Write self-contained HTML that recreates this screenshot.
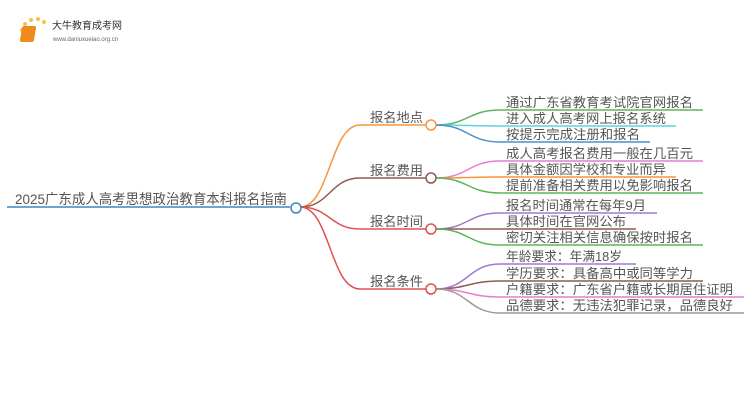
<!DOCTYPE html>
<html><head><meta charset="utf-8"><style>
html,body{margin:0;padding:0;background:#fff;width:750px;height:410px;overflow:hidden}
svg text{font-family:"Liberation Sans","Noto Sans CJK SC",sans-serif;fill:#555}
</style></head><body>
<svg width="750" height="410" viewBox="0 0 750 410" xmlns="http://www.w3.org/2000/svg">
<!-- logo -->
<g>
<circle cx="22" cy="30" r="2" fill="#f6c343"/><circle cx="25" cy="24" r="2" fill="#f6c343"/><circle cx="31" cy="20" r="2" fill="#f6c343"/><circle cx="38" cy="19" r="2" fill="#f6c343"/><circle cx="44" cy="22" r="2" fill="#f6c343"/><circle cx="23" cy="36" r="1.5" fill="#f6c343"/>
<rect x="27" y="26" width="14" height="16" rx="2" fill="#f08a1c" transform="skewX(-10)"/>
<text x="52" y="29" font-size="10" style="fill:#333">大牛教育成考网</text>
<text x="53" y="41" font-size="6" style="fill:#666">www.daniuxueiao.org.cn</text>
</g>
<g fill="none" stroke-width="1.5">
<!-- root -->
<path d="M7 207 H290" stroke="#3d85c6"/>
<!-- branches -->
<path d="M300 207 C330 207 330 125 360 125 H426" stroke="#f7943c"/>
<path d="M300 207 C330 207 330 178 360 178 H426" stroke="#8d5c4f"/>
<path d="M300 207 C330 207 330 229 360 229 H426" stroke="#e05252"/>
<path d="M300 207 C330 207 330 289 360 289 H426" stroke="#e05252"/>
<!-- leaves -->
<path d="M436 125 C468 125 468 110 500 110 H703" stroke="#5bb55b"/>
<path d="M436 125 C468 125 468 126 500 126 H676" stroke="#5fd3e0"/>
<path d="M436 125 C468 125 468 142 500 142 H650" stroke="#4a90cc"/>
<path d="M436 178 C468 178 468 161 500 161 H703" stroke="#e87ccf"/>
<path d="M436 178 C468 178 468 177 500 177 H676" stroke="#f7943c"/>
<path d="M436 178 C468 178 468 193 500 193 H703" stroke="#5bb55b"/>
<path d="M436 229 C468 229 468 213 500 213 H657" stroke="#a07ad0"/>
<path d="M436 229 C468 229 468 229 500 229 H636" stroke="#8d5c4f"/>
<path d="M436 229 C468 229 468 245 500 245 H703" stroke="#5bb55b"/>
<path d="M436 289 C468 289 468 264 500 264 H636" stroke="#a07ad0"/>
<path d="M436 289 C468 289 468 281 500 281 H703" stroke="#8d5c4f"/>
<path d="M436 289 C468 289 468 297 500 297 H744" stroke="#e87ccf"/>
<path d="M436 289 C468 289 468 313 500 313 H744" stroke="#999"/>
<circle cx="296" cy="208" r="5" fill="#fff" stroke="#3d85c6"/>
<circle cx="431" cy="125" r="5" fill="#fff" stroke="#f7943c"/>
<circle cx="431" cy="178" r="5" fill="#fff" stroke="#8d5c4f"/>
<circle cx="431" cy="229" r="5" fill="#fff" stroke="#e05252"/>
<circle cx="431" cy="289" r="5" fill="#fff" stroke="#e05252"/>
</g>
<text x="15" y="204" font-size="14" textLength="272" lengthAdjust="spacingAndGlyphs">2025广东成人高考思想政治教育本科报名指南</text>
<g font-size="13">
<text x="370" y="122" textLength="53" lengthAdjust="spacingAndGlyphs">报名地点</text>
<text x="370" y="175" textLength="53" lengthAdjust="spacingAndGlyphs">报名费用</text>
<text x="370" y="226" textLength="53" lengthAdjust="spacingAndGlyphs">报名时间</text>
<text x="370" y="286" textLength="53" lengthAdjust="spacingAndGlyphs">报名条件</text>
</g>
<g font-size="13">
<text x="506" y="107" textLength="187" lengthAdjust="spacingAndGlyphs">通过广东省教育考试院官网报名</text>
<text x="506" y="123" textLength="160" lengthAdjust="spacingAndGlyphs">进入成人高考网上报名系统</text>
<text x="506" y="139" textLength="134" lengthAdjust="spacingAndGlyphs">按提示完成注册和报名</text>
<text x="506" y="158" textLength="187" lengthAdjust="spacingAndGlyphs">成人高考报名费用一般在几百元</text>
<text x="506" y="174" textLength="160" lengthAdjust="spacingAndGlyphs">具体金额因学校和专业而异</text>
<text x="506" y="190" textLength="187" lengthAdjust="spacingAndGlyphs">提前准备相关费用以免影响报名</text>
<text x="506" y="210" textLength="140" lengthAdjust="spacingAndGlyphs">报名时间通常在每年9月</text>
<text x="506" y="226" textLength="120" lengthAdjust="spacingAndGlyphs">具体时间在官网公布</text>
<text x="506" y="242" textLength="187" lengthAdjust="spacingAndGlyphs">密切关注相关信息确保按时报名</text>
<text x="506" y="261" textLength="116" lengthAdjust="spacingAndGlyphs">年龄要求：年满18岁</text>
<text x="506" y="278" textLength="187" lengthAdjust="spacingAndGlyphs">学历要求：具备高中或同等学力</text>
<text x="506" y="294" textLength="227" lengthAdjust="spacingAndGlyphs">户籍要求：广东省户籍或长期居住证明</text>
<text x="506" y="310" textLength="227" lengthAdjust="spacingAndGlyphs">品德要求：无违法犯罪记录，品德良好</text>
</g>
</svg>
</body></html>
